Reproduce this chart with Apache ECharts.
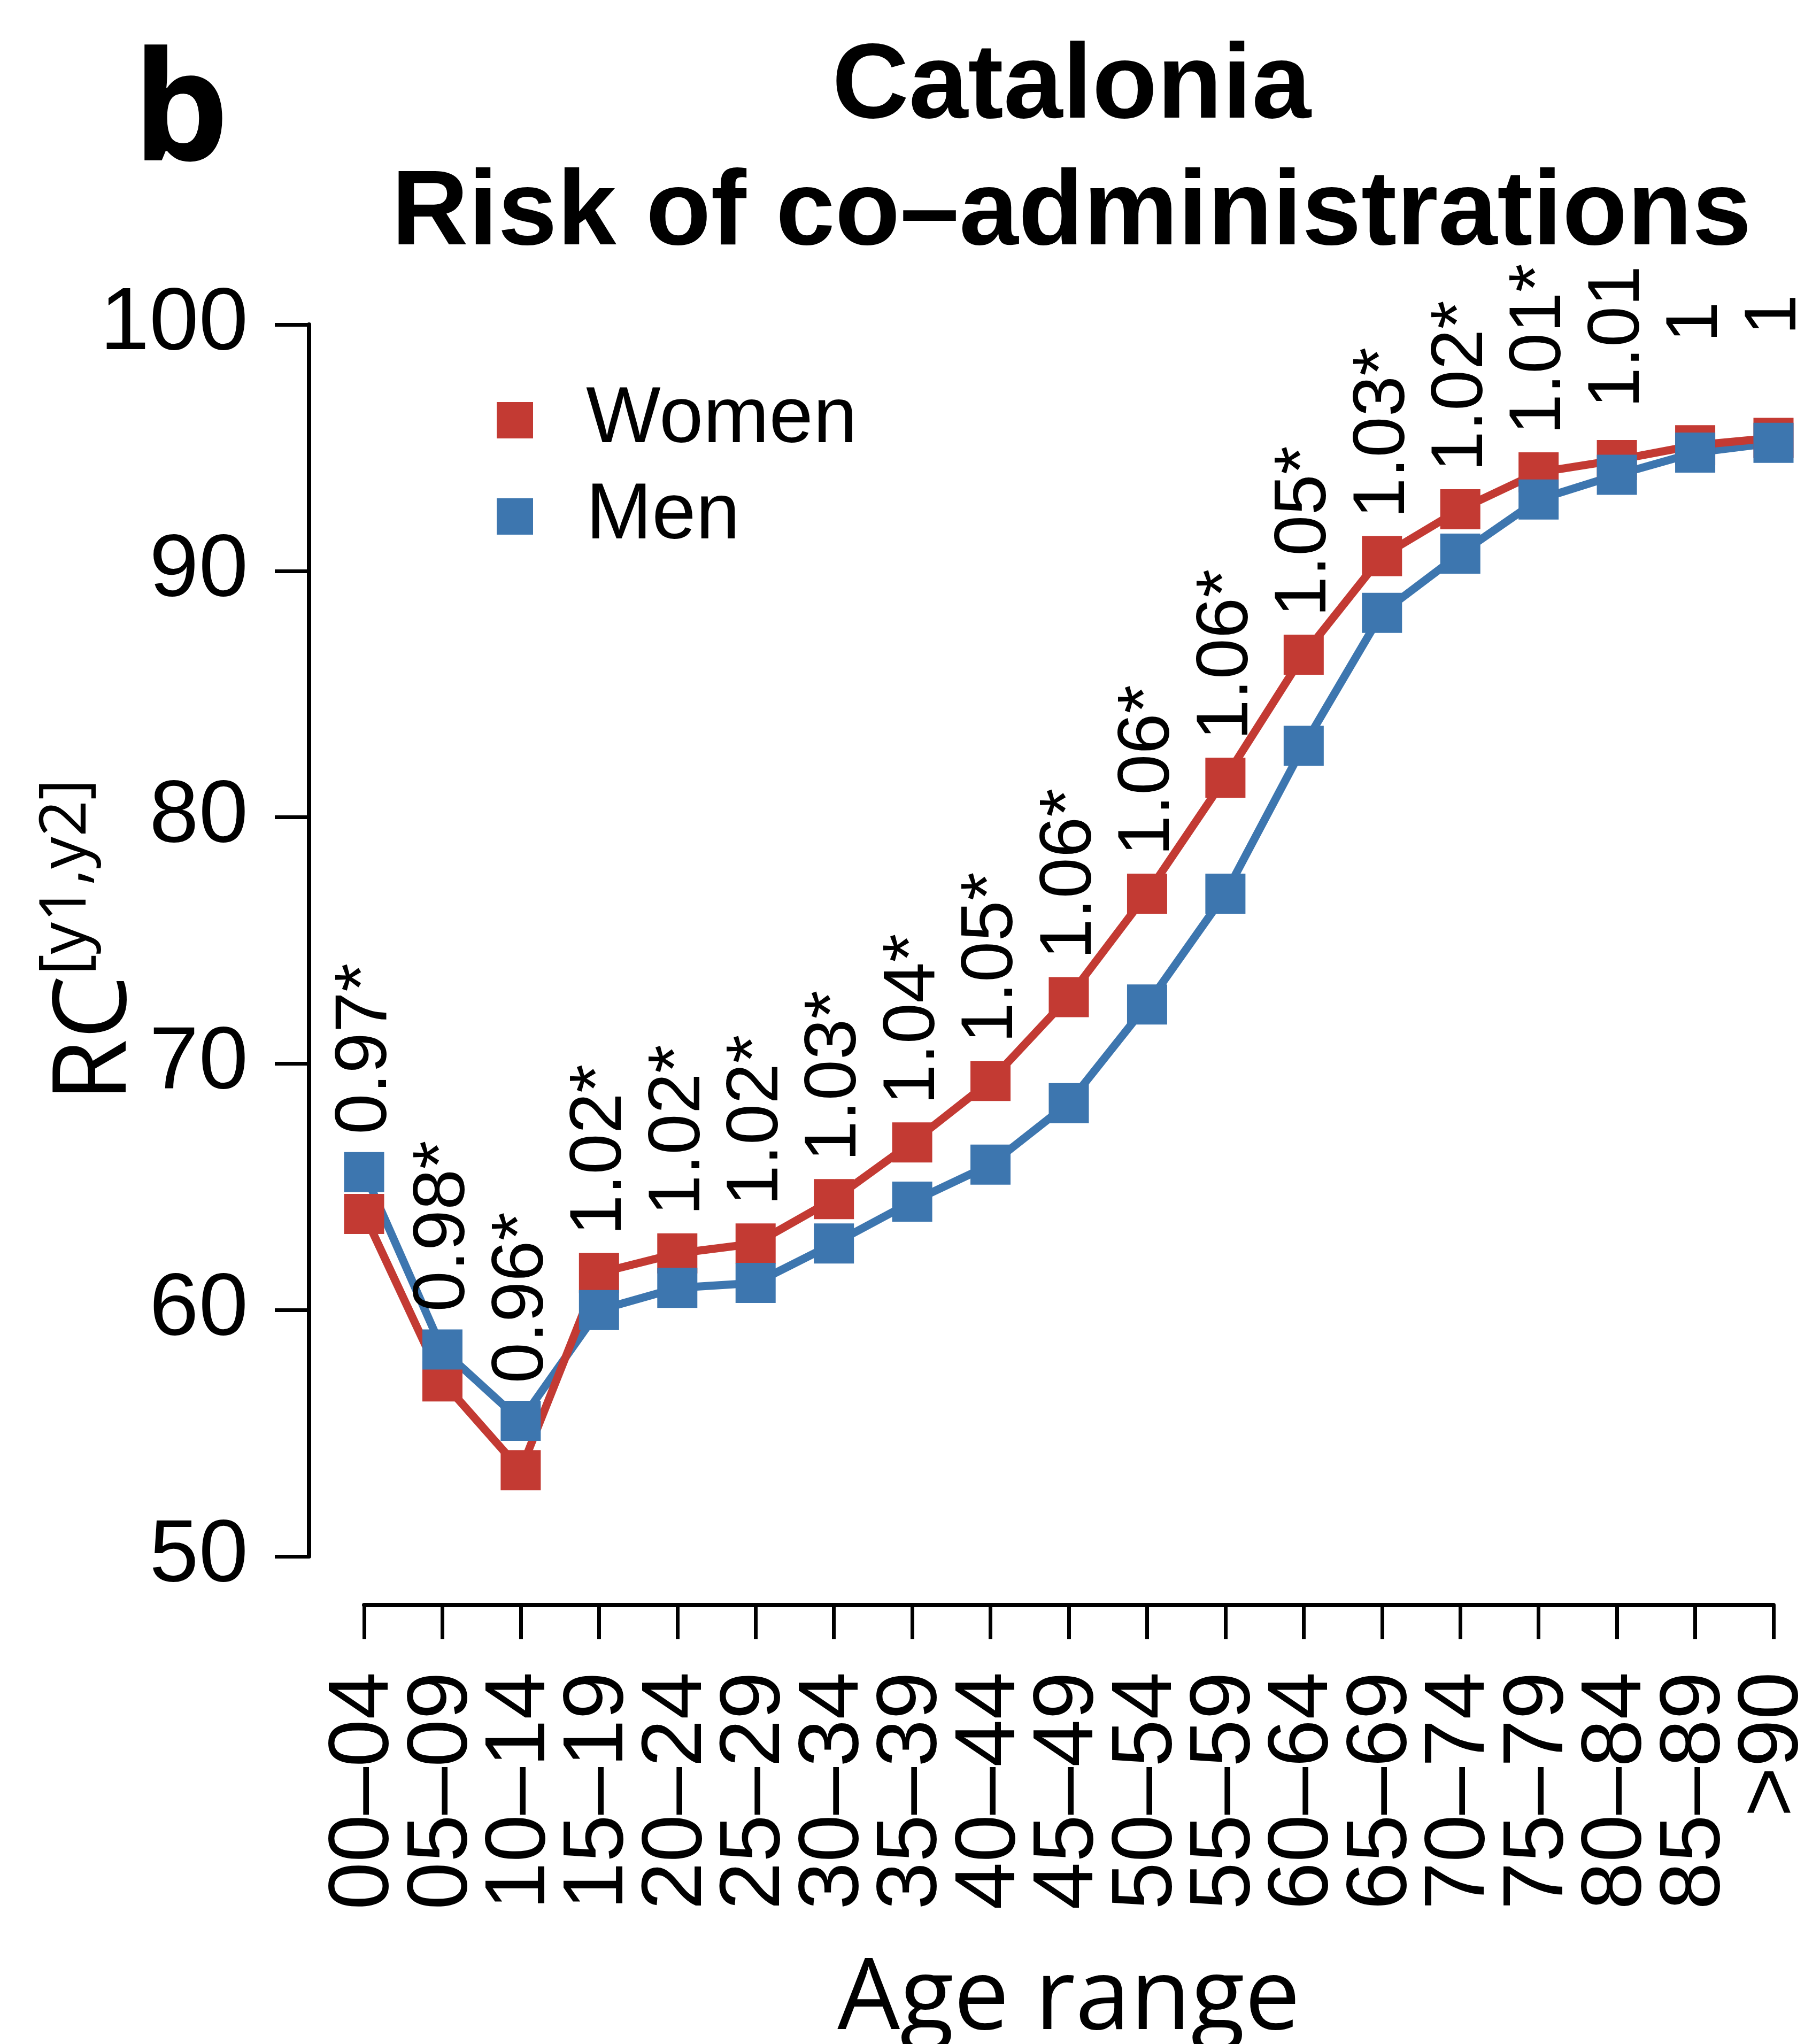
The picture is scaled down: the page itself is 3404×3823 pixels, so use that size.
<!DOCTYPE html>
<html><head><meta charset="utf-8">
<script src="https://cdn.jsdelivr.net/npm/echarts@6/dist/echarts.min.js"></script>
<style>html,body{margin:0;padding:0;background:#fff}#c{width:3404px;height:3823px}</style>
</head><body><div id="c"></div>
<script>
const ageRanges = ['00\u201304','05\u201309','10\u201314','15\u201319','20\u201324','25\u201329','30\u201334','35\u201339','40\u201344','45\u201349','50\u201354','55\u201359','60\u201364','65\u201369','70\u201374','75\u201379','80\u201384','85\u201389','>90'];
const women = [63.9, 57.1, 53.5, 61.5, 62.3, 62.7, 64.5, 66.8, 69.3, 72.7, 76.9, 81.6, 86.6, 90.6, 92.5, 94.0, 94.5, 95.1, 95.4];
const men   = [65.6, 58.4, 55.5, 60.0, 60.9, 61.1, 62.7, 64.4, 65.9, 68.4, 72.4, 76.9, 82.9, 88.3, 90.7, 92.9, 93.9, 94.8, 95.2];
const ratioLabels = ['0.97*','0.98*','0.96*','1.02*','1.02*','1.02*','1.03*','1.04*','1.05*','1.06*','1.06*','1.06*','1.05*','1.03*','1.02*','1.01*','1.01','1','1'];
const yMin = 50, yMax = 100, yStep = 10;

const RED = '#C33A33', BLUE = '#3D76AF';
const LABEL_OFFSET = 5;
const labelPos = women.map((w, i) => Math.max(w, men[i]) + LABEL_OFFSET);

const chart = echarts.init(document.getElementById('c'), null, {renderer: 'canvas'});
const markerSeries = (name, data, color) => ({
  name, type: 'line', data, symbol: 'rect', symbolSize: 75, showSymbol: true,
  lineStyle: {width: 0, opacity: 0}, itemStyle: {color}, silent: true, animation: false
});
const lineSeries = (name, data, color) => ({
  name, type: 'line', data, symbol: 'none', showSymbol: false,
  lineStyle: {width: 15, color, join: 'miter'}, silent: true, animation: false
});
chart.setOption({
  animation: false,
  backgroundColor: '#fff',
  title: [{
    text: 'Catalonia\nRisk of co\u2013administrations',
    left: 1999, top: 42, textAlign: 'center',
    textStyle: {fontFamily: 'Liberation Sans', fontWeight: 'bold', fontSize: 199, lineHeight: 237, color: '#000'}
  }, {
    text: 'b', left: 243, top: 71,
    textStyle: {fontFamily: 'Open Sans', fontWeight: 'bold', fontSize: 285, lineHeight: 285, color: '#000'}
  }],
  legend: {
    orient: 'vertical', left: 929, top: 711, padding: 0, itemGap: 30,
    itemWidth: 68, itemHeight: 68, icon: 'rect',
    data: ['Women', 'Men'],
    textStyle: {fontFamily: 'Liberation Sans', fontSize: 148, lineHeight: 150, color: '#000', padding: [0, 0, 0, 94]}
  },
  grid: {left: 681, right: 87, top: 607, bottom: 3823 - 2911, containLabel: false, outerBoundsMode: 'none'},
  xAxis: {
    type: 'category', data: ageRanges, boundaryGap: false, offset: 91,
    axisLine: {lineStyle: {color: '#000', width: 8}},
    axisTick: {length: 64, lineStyle: {color: '#000', width: 7}, interval: 0},
    axisLabel: {rotate: 90, interval: 0, margin: 125, fontFamily: 'Liberation Sans', fontSize: 160, color: '#000'},
    name: 'Age range', nameLocation: 'middle', nameGap: 648, nameMoveOverlap: false,
    nameTextStyle: {fontFamily: 'Open Sans', fontSize: 185, lineHeight: 185, color: '#000'}
  },
  yAxis: {
    type: 'value', min: yMin, max: yMax, interval: yStep, offset: 103,
    splitLine: {show: false},
    axisLine: {show: true, lineStyle: {color: '#000', width: 8}},
    axisTick: {show: true, length: 64, lineStyle: {color: '#000', width: 7}},
    axisLabel: {margin: 114, fontFamily: 'Liberation Sans', fontSize: 166, color: '#000'},
    name: '{a|RC}{b|[y1,y2]}', nameLocation: 'middle', nameRotate: 90, nameGap: 282, nameMoveOverlap: false,
    nameTextStyle: {
      color: '#000', fontFamily: 'Open Sans',
      rich: {
        a: {fontFamily: 'Open Sans', fontSize: 190, lineHeight: 230, color: '#000'},
        b: {fontFamily: 'Open Sans', fontSize: 120, lineHeight: 120, verticalAlign: 'top', color: '#000'}
      }
    }
  },
  series: [
    markerSeries('Women', women, RED),
    markerSeries('Men', men, BLUE),
    lineSeries('Men line', men, BLUE),
    lineSeries('Women line', women, RED),
    {
      name: 'ratio', type: 'scatter', data: labelPos, symbolSize: 1, z: 5, clip: false,
      itemStyle: {color: 'rgba(0,0,0,0)'}, silent: true, animation: false,
      label: {
        show: true, position: 'inside', rotate: 90, offset: [0, 3],
        formatter: p => ratioLabels[p.dataIndex],
        fontFamily: 'Liberation Sans', fontSize: 137, color: '#000',
        textBorderWidth: 0, opacity: 1
      }
    }
  ]
});
</script></body></html>
